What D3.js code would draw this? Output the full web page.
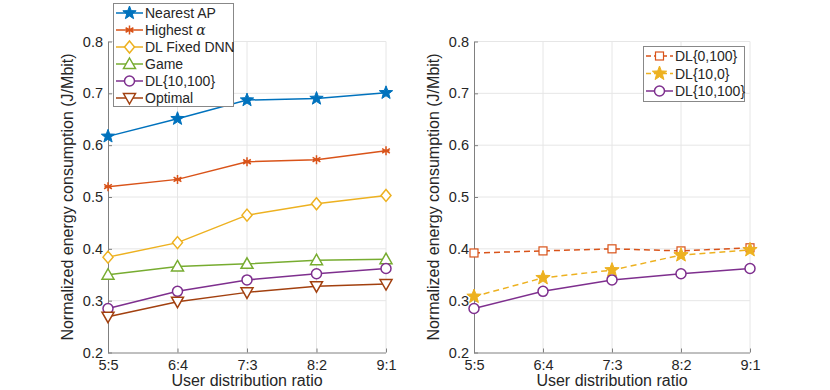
<!DOCTYPE html>
<html>
<head>
<meta charset="utf-8">
<script src="https://cdn.jsdelivr.net/npm/d3@7"></script>
<style>
  body { margin: 0; background: #fff; }
  text { font-family: "Liberation Sans", Arial, sans-serif; fill: #262626; }
  .grid line { stroke: #e6e6e6; stroke-width: 1; }
  .axis path, .axis line { stroke: #808080; }
</style>
</head>
<body>
<script>
var width = 830,
    height = 390;

// categories
var ratios = ["5:5", "6:4", "7:3", "8:2", "9:1"];
var yTicks = [0.2, 0.3, 0.4, 0.5, 0.6, 0.7, 0.8];

// left panel series
var nearestAP   = [0.617, 0.651, 0.687, 0.690, 0.701];
var highestA    = [0.520, 0.534, 0.568, 0.572, 0.589];
var dlFixedDNN  = [0.384, 0.412, 0.465, 0.487, 0.503];
var game        = [0.350, 0.366, 0.371, 0.378, 0.380];
var dl10_100    = [0.285, 0.318, 0.340, 0.352, 0.362];
var optimal     = [0.269, 0.298, 0.316, 0.328, 0.332];

// right panel series
var dl0_100     = [0.392, 0.396, 0.400, 0.396, 0.402];
var dl10_0      = [0.308, 0.344, 0.359, 0.388, 0.398];

var leftSeries = [
  {name: "Nearest AP", values: nearestAP, color: "#0072BD", marker: "star", dash: null},
  {name: "Highest ", greek: "\u03b1", values: highestA, color: "#D95319", marker: "asterisk", dash: null},
  {name: "DL Fixed DNN", values: dlFixedDNN, color: "#EDB120", marker: "diamond", dash: null},
  {name: "Game", values: game, color: "#77AC30", marker: "triangle", dash: null},
  {name: "DL{10,100}", values: dl10_100, color: "#7E2F8E", marker: "circle", dash: null},
  {name: "Optimal", values: optimal, color: "#A2400F", marker: "triangleDown", dash: null}
];

var rightSeries = [
  {name: "DL{0,100}", values: dl0_100, color: "#D95319", marker: "square", dash: "6,4"},
  {name: "DL{10,0}", values: dl10_0, color: "#EDB120", marker: "starFill", dash: "6,4"},
  {name: "DL{10,100}", values: dl10_100, color: "#7E2F8E", marker: "circle", dash: null}
];

var svg = d3.select("body").append("svg")
    .attr("width", width)
    .attr("height", height);

function starPath(r) {
  var pts = [];
  for (var i = 0; i < 10; i++) {
    var a = -Math.PI / 2 + i * Math.PI / 5;
    var rr = (i % 2 == 0) ? r : r * 0.42;
    pts.push([rr * Math.cos(a), rr * Math.sin(a)]);
  }
  return "M" + pts.join("L") + "Z";
}

function drawMarker(g, type, color) {
  if (type == "star" || type == "starFill") {
    g.append("path").attr("d", starPath(type == "star" ? 7 : 7.5))
      .attr("fill", color).attr("stroke", color).attr("stroke-width", 1);
  } else if (type == "asterisk") {
    var r = 4.5, s = "";
    [0, 60, 120].forEach(function(deg) {
      var a = (deg + 90) * Math.PI / 180;
      s += "M" + (r * Math.cos(a)) + "," + (r * Math.sin(a)) + "L" + (-r * Math.cos(a)) + "," + (-r * Math.sin(a));
    });
    s += "M-3.5,0L3.5,0";
    g.append("path").attr("d", s).attr("fill", "none").attr("stroke", color).attr("stroke-width", 1.5);
  } else if (type == "diamond") {
    g.append("path").attr("d", "M0,-6L5,0L0,6L-5,0Z")
      .attr("fill", "#fff").attr("stroke", color).attr("stroke-width", 1.5);
  } else if (type == "triangle") {
    g.append("path").attr("d", "M0,-6L6,4.5L-6,4.5Z")
      .attr("fill", "#fff").attr("stroke", color).attr("stroke-width", 1.5);
  } else if (type == "triangleDown") {
    g.append("path").attr("d", "M0,6L6,-4.5L-6,-4.5Z")
      .attr("fill", "#fff").attr("stroke", color).attr("stroke-width", 1.5);
  } else if (type == "circle") {
    g.append("circle").attr("r", 5)
      .attr("fill", "#fff").attr("stroke", color).attr("stroke-width", 1.5);
  } else if (type == "square") {
    g.append("rect").attr("x", -4).attr("y", -4).attr("width", 8).attr("height", 8)
      .attr("fill", "#fff").attr("stroke", color).attr("stroke-width", 1.2);
  }
}

function panel(x0, x1, series, ylabelX) {
  var x = d3.scalePoint().domain(ratios).range([x0, x1]);
  var y = d3.scaleLinear().domain([0.2, 0.8]).range([352.5, 41.5]);

  var g = svg.append("g");

  // grid
  var grid = g.append("g").attr("class", "grid");
  grid.selectAll(".gx").data(ratios.slice(1)).enter().append("line")
    .attr("x1", d => x(d)).attr("x2", d => x(d))
    .attr("y1", y(0.2)).attr("y2", y(0.8));
  grid.selectAll(".gy").data(yTicks.slice(1)).enter().append("line")
    .attr("x1", x0).attr("x2", x1)
    .attr("y1", d => y(d)).attr("y2", d => y(d));

  // axes
  var ax = g.append("g").attr("class", "axis")
    .attr("transform", "translate(0," + y(0.2) + ")")
    .call(d3.axisBottom(x).tickSizeInner(-4).tickSizeOuter(0).tickPadding(7));
  ax.selectAll("text").attr("font-size", 14.5).attr("fill", "#262626");
  ax.select(".domain").attr("d", "M" + x0 + ",0.5H" + x1);

  var ay = g.append("g").attr("class", "axis")
    .attr("transform", "translate(" + x0 + ",0)")
    .call(d3.axisLeft(y).tickValues(yTicks).tickFormat(d3.format(".1f")).tickSizeInner(-4).tickSizeOuter(0).tickPadding(5));
  ay.selectAll("text").attr("font-size", 14.5).attr("fill", "#262626");
  ay.selectAll(".tick line").attr("x2", 4);

  g.append("text")
    .attr("x", (x0 + x1) / 2).attr("y", 386)
    .attr("text-anchor", "middle").attr("font-size", 16)
    .text("User distribution ratio");

  g.append("text")
    .attr("transform", "translate(" + ylabelX + "," + ((y(0.2) + y(0.8)) / 2) + ") rotate(-90)")
    .attr("text-anchor", "middle").attr("font-size", 16)
    .text("Normalized energy consumption (J/Mbit)");

  var line = d3.line().x((d, i) => x(ratios[i])).y(d => y(d));

  series.forEach(function(s) {
    g.append("path").datum(s.values)
      .attr("d", line)
      .attr("fill", "none")
      .attr("stroke", s.color)
      .attr("stroke-width", 1.5)
      .attr("stroke-dasharray", s.dash);
    s.values.forEach(function(v, i) {
      var m = g.append("g").attr("transform", "translate(" + x(ratios[i]) + "," + y(v) + ")");
      drawMarker(m, s.marker, s.color);
    });
  });
  return g;
}

function legend(lx, ly, w, h, series, step, y0) {
  var lg = svg.append("g");
  lg.append("rect").attr("x", lx + 0.5).attr("y", ly + 0.5).attr("width", w).attr("height", h)
    .attr("fill", "#fff").attr("stroke", "#888").attr("stroke-width", 1);
  series.forEach(function(s, i) {
    var yy = ly + y0 + i * step;
    lg.append("line").attr("x1", lx + 3).attr("x2", lx + 30).attr("y1", yy).attr("y2", yy)
      .attr("stroke", s.color).attr("stroke-width", 1.5).attr("stroke-dasharray", s.dash ? "5,3" : null);
    var m = lg.append("g").attr("transform", "translate(" + (lx + 16.5) + "," + yy + ")");
    drawMarker(m, s.marker, s.color);
    var t = lg.append("text").attr("x", lx + 32).attr("y", yy + 5)
      .attr("font-size", 14).text(s.name);
    if (s.greek) {
      t.append("tspan").attr("font-family", "'DejaVu Serif', serif")
        .attr("font-style", "italic").text(s.greek);
    }
  });
}

panel(108, 386, leftSeries, 73);
panel(474, 750, rightSeries, 439);

legend(113, 3, 120, 103, leftSeries, 17, 10);
legend(643, 46, 101, 55, rightSeries, 17.5, 10);
</script>
</body>
</html>
